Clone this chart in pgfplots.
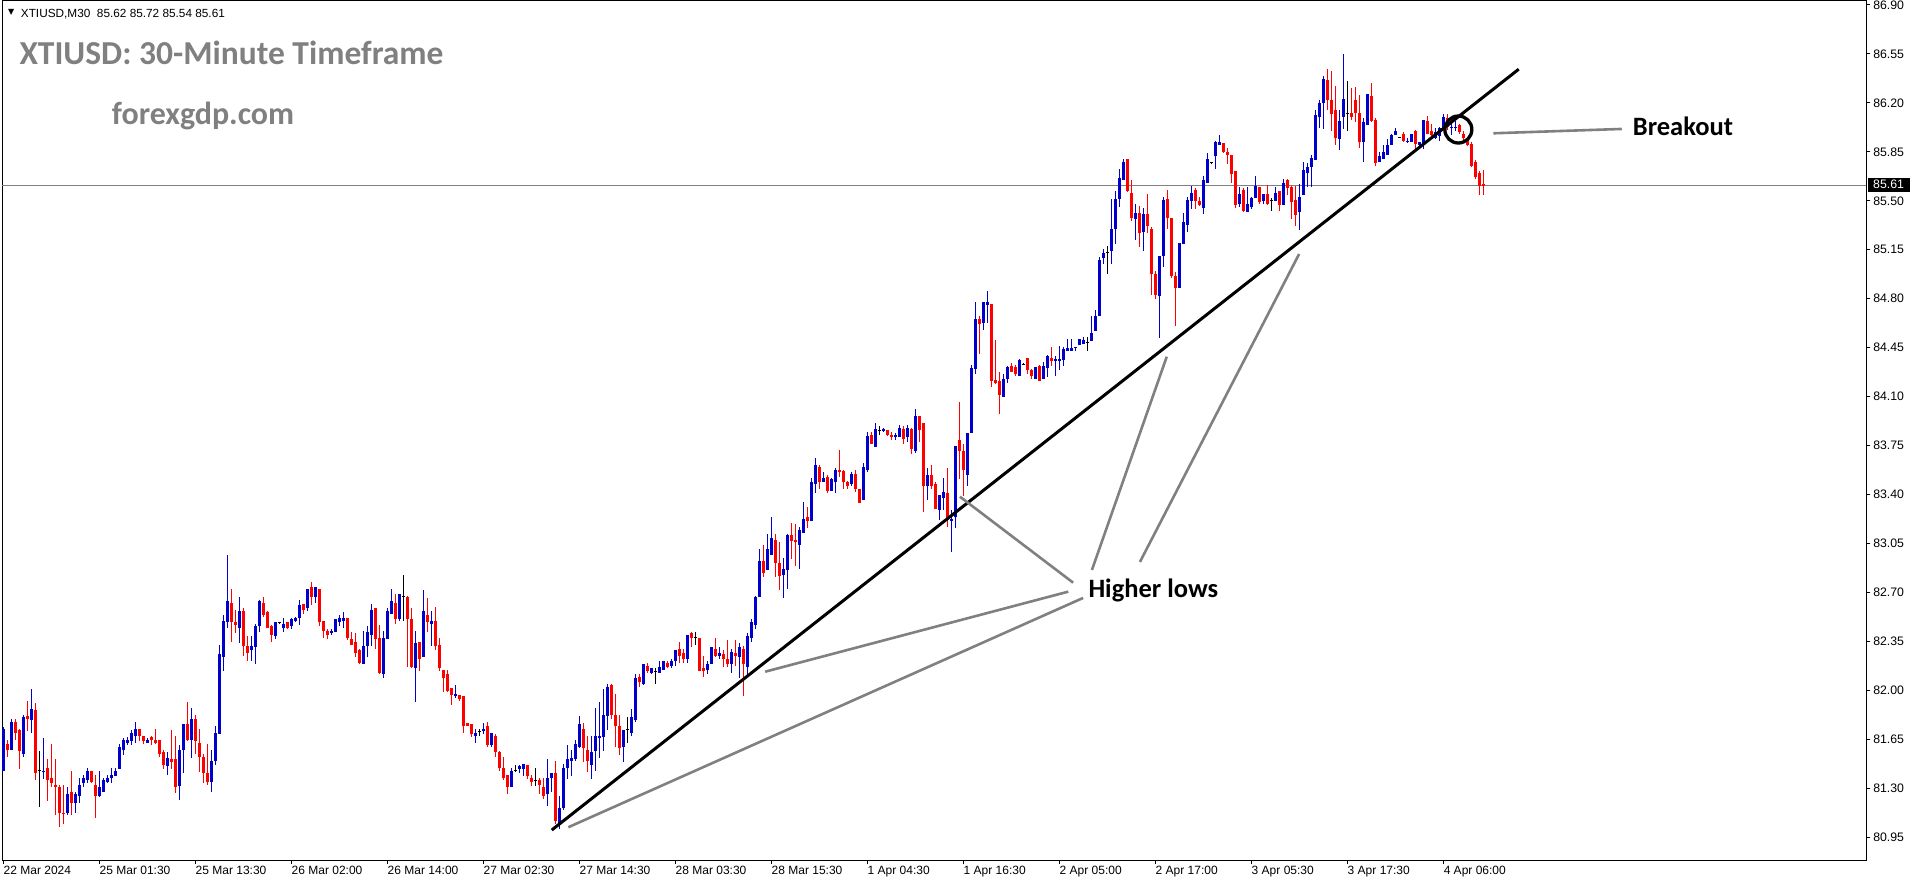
\documentclass[border=0pt]{standalone}
\usepackage{pgfplots}
\pgfplotsset{compat=1.18}
\usepackage{pgfplotstable}
\usepackage{fontspec}
\setmainfont{Liberation Sans}
\newfontfamily\carlito{Carlito}
\newfontfamily\dejavu{DejaVu Sans}
\definecolor{upblue}{RGB}{0,0,205}
\definecolor{dnred}{RGB}{255,0,0}
\definecolor{annogray}{RGB}{128,128,128}

\pgfplotstableread{
i o h l c
0 81.43 81.74 81.43 81.73
1 81.62 81.65 81.53 81.58
2 81.58 81.80 81.58 81.78
3 81.78 81.80 81.65 81.70
4 81.72 81.73 81.44 81.57
5 81.55 81.83 81.53 81.81
6 81.82 81.93 81.71 81.80
7 81.79 82.01 81.70 81.87
8 81.86 81.91 81.36 81.41
9 81.43 81.57 81.17 81.43
10 81.42 81.66 81.37 81.43
11 81.45 81.51 81.21 81.36
12 81.38 81.62 81.31 81.34
13 81.33 81.51 81.11 81.31
14 81.31 81.33 81.03 81.13
15 81.13 81.33 81.05 81.12
16 81.13 81.31 81.11 81.26
17 81.28 81.43 81.11 81.20
18 81.20 81.28 81.13 81.26
19 81.25 81.38 81.20 81.33
20 81.34 81.40 81.31 81.38
21 81.36 81.45 81.34 81.43
22 81.43 81.43 81.34 81.35
23 81.33 81.40 81.09 81.25
24 81.25 81.43 81.24 81.31
25 81.28 81.38 81.28 81.36
26 81.35 81.40 81.34 81.38
27 81.38 81.45 81.34 81.40
28 81.39 81.45 81.39 81.43
29 81.44 81.62 81.44 81.60
30 81.58 81.66 81.54 81.65
31 81.63 81.67 81.61 81.65
32 81.64 81.72 81.61 81.70
33 81.68 81.78 81.63 81.73
34 81.73 81.73 81.64 81.68
35 81.68 81.68 81.62 81.64
36 81.63 81.66 81.63 81.65
37 81.67 81.68 81.61 81.65
38 81.65 81.73 81.62 81.63
39 81.65 81.65 81.53 81.55
40 81.56 81.58 81.44 81.47
41 81.46 81.56 81.40 81.52
42 81.51 81.72 81.44 81.49
43 81.51 81.68 81.27 81.31
44 81.32 81.61 81.22 81.58
45 81.58 81.76 81.41 81.76
46 81.76 81.92 81.64 81.65
47 81.65 81.88 81.52 81.80
48 81.80 81.83 81.55 81.64
49 81.63 81.73 81.42 81.53
50 81.53 81.55 81.34 81.41
51 81.41 81.62 81.33 81.35
52 81.35 81.58 81.28 81.50
53 81.50 81.75 81.47 81.70
54 81.69 82.33 81.69 82.26
55 82.24 82.54 82.14 82.50
56 82.49 82.97 82.45 82.64
57 82.63 82.73 82.35 82.49
58 82.49 82.58 82.41 82.47
59 82.45 82.67 82.34 82.57
60 82.57 82.59 82.25 82.32
61 82.32 82.39 82.21 82.27
62 82.29 82.39 82.21 82.32
63 82.31 82.48 82.19 82.46
64 82.46 82.65 82.42 82.64
65 82.63 82.67 82.53 82.54
66 82.56 82.57 82.45 82.45
67 82.46 82.47 82.35 82.40
68 82.39 82.49 82.37 82.49
69 82.49 82.49 82.48 82.49
70 82.45 82.52 82.42 82.48
71 82.49 82.49 82.44 82.45
72 82.46 82.52 82.44 82.51
73 82.50 82.53 82.49 82.52
74 82.52 82.65 82.47 82.61
75 82.62 82.62 82.55 82.58
76 82.59 82.73 82.57 82.73
77 82.74 82.78 82.61 82.67
78 82.67 82.74 82.63 82.74
79 82.73 82.73 82.46 82.49
80 82.50 82.50 82.38 82.43
81 82.43 82.44 82.37 82.40
82 82.41 82.44 82.40 82.43
83 82.42 82.51 82.42 82.51
84 82.49 82.54 82.46 82.52
85 82.50 82.56 82.45 82.52
86 82.52 82.52 82.36 82.38
87 82.37 82.42 82.33 82.33
88 82.35 82.41 82.24 82.27
89 82.29 82.30 82.19 82.20
90 82.19 82.43 82.19 82.32
91 82.32 82.46 82.24 82.42
92 82.40 82.62 82.32 82.58
93 82.59 82.59 82.30 82.37
94 82.38 82.47 82.12 82.13
95 82.12 82.43 82.09 82.38
96 82.37 82.59 82.37 82.57
97 82.55 82.73 82.55 82.64
98 82.63 82.69 82.48 82.51
99 82.51 82.69 82.50 82.69
100 82.67 82.83 82.50 82.67
101 82.67 82.68 82.17 82.51
102 82.51 82.59 82.16 82.17
103 82.16 82.43 81.92 82.34
104 82.35 82.35 82.14 82.23
105 82.24 82.72 82.24 82.57
106 82.54 82.66 82.42 82.49
107 82.48 82.57 82.32 82.50
108 82.50 82.60 82.29 82.32
109 82.33 82.38 82.14 82.16
110 82.15 82.15 81.99 82.09
111 82.12 82.15 81.99 82.00
112 82.02 82.02 81.90 81.97
113 81.96 82.04 81.95 81.98
114 81.97 81.97 81.93 81.94
115 81.96 81.96 81.70 81.75
116 81.77 81.77 81.75 81.75
117 81.76 81.76 81.67 81.69
118 81.68 81.73 81.63 81.70
119 81.71 81.73 81.68 81.71
120 81.71 81.77 81.69 81.73
121 81.75 81.78 81.60 81.61
122 81.61 81.70 81.60 81.70
123 81.68 81.69 81.53 81.56
124 81.56 81.57 81.43 81.45
125 81.45 81.53 81.36 81.38
126 81.40 81.40 81.26 81.31
127 81.31 81.45 81.31 81.43
128 81.43 81.47 81.42 81.43
129 81.44 81.47 81.41 81.46
130 81.44 81.48 81.39 81.48
131 81.47 81.47 81.37 81.39
132 81.38 81.40 81.32 81.35
133 81.36 81.45 81.32 81.36
134 81.36 81.38 81.26 81.33
135 81.31 81.38 81.23 81.25
136 81.26 81.51 81.18 81.38
137 81.38 81.41 81.28 81.41
138 81.41 81.50 81.05 81.07
139 81.05 81.25 81.01 81.16
140 81.16 81.48 81.15 81.45
141 81.45 81.61 81.37 81.51
142 81.50 81.58 81.39 81.52
143 81.51 81.65 81.50 81.62
144 81.60 81.82 81.59 81.76
145 81.73 81.77 81.49 81.59
146 81.58 81.68 81.42 81.50
147 81.47 81.68 81.37 81.56
148 81.57 81.88 81.43 81.68
149 81.66 81.92 81.52 81.68
150 81.67 82.01 81.57 81.83
151 81.82 82.05 81.72 82.03
152 82.04 82.05 81.80 81.83
153 81.83 81.98 81.60 81.75
154 81.75 81.83 81.54 81.59
155 81.60 81.72 81.49 81.72
156 81.72 81.81 81.63 81.72
157 81.70 81.87 81.68 81.81
158 81.79 82.12 81.78 82.09
159 82.10 82.12 82.03 82.06
160 82.05 82.19 82.04 82.19
161 82.18 82.20 82.13 82.14
162 82.13 82.16 82.12 82.16
163 82.14 82.16 82.05 82.14
164 82.13 82.21 82.13 82.17
165 82.15 82.21 82.15 82.21
166 82.20 82.21 82.16 82.17
167 82.18 82.23 82.16 82.21
168 82.21 82.29 82.18 82.29
169 82.30 82.35 82.20 82.25
170 82.27 82.30 82.20 82.23
171 82.23 82.40 82.20 82.40
172 82.41 82.42 82.31 82.38
173 82.38 82.42 82.33 82.38
174 82.38 82.38 82.14 82.14
175 82.16 82.25 82.10 82.14
176 82.15 82.21 82.12 82.19
177 82.19 82.31 82.19 82.31
178 82.30 82.38 82.24 82.25
179 82.25 82.31 82.23 82.27
180 82.26 82.29 82.17 82.23
181 82.23 82.36 82.17 82.19
182 82.19 82.30 82.13 82.28
183 82.27 82.36 82.18 82.25
184 82.24 82.34 82.09 82.31
185 82.30 82.32 81.96 82.19
186 82.17 82.41 82.11 82.39
187 82.38 82.51 82.35 82.49
188 82.47 82.68 82.44 82.67
189 82.67 83.01 82.67 82.93
190 82.93 83.04 82.81 82.84
191 82.86 83.12 82.86 83.01
192 82.97 83.24 82.97 83.09
193 83.08 83.12 82.81 82.91
194 82.91 83.06 82.72 82.82
195 82.83 82.95 82.66 82.87
196 82.86 83.12 82.73 83.11
197 83.11 83.20 82.94 83.07
198 83.08 83.19 82.89 83.06
199 83.04 83.17 82.87 83.15
200 83.13 83.35 83.13 83.23
201 83.24 83.31 83.16 83.21
202 83.21 83.52 83.21 83.49
203 83.48 83.66 83.41 83.61
204 83.60 83.61 83.44 83.49
205 83.49 83.56 83.49 83.52
206 83.53 83.54 83.41 83.43
207 83.43 83.52 83.43 83.51
208 83.49 83.59 83.41 83.58
209 83.58 83.72 83.53 83.56
210 83.57 83.58 83.44 83.49
211 83.49 83.50 83.44 83.46
212 83.48 83.56 83.46 83.55
213 83.55 83.58 83.42 83.44
214 83.44 83.44 83.34 83.34
215 83.36 83.63 83.36 83.60
216 83.58 83.85 83.56 83.82
217 83.83 83.85 83.76 83.76
218 83.74 83.91 83.74 83.87
219 83.86 83.89 83.83 83.86
220 83.86 83.88 83.85 83.87
221 83.86 83.86 83.82 83.83
222 83.83 83.85 83.79 83.81
223 83.81 83.84 83.79 83.83
224 83.81 83.90 83.81 83.88
225 83.87 83.89 83.76 83.80
226 83.81 83.90 83.78 83.88
227 83.87 83.88 83.69 83.73
228 83.71 84.01 83.70 83.96
229 83.96 83.96 83.78 83.86
230 83.91 83.91 83.28 83.46
231 83.46 83.59 83.36 83.54
232 83.54 83.61 83.44 83.46
233 83.48 83.49 83.30 83.30
234 83.29 83.40 83.22 83.40
235 83.38 83.52 83.29 83.42
236 83.41 83.59 83.17 83.23
237 83.21 83.29 82.99 83.23
238 83.24 83.75 83.16 83.75
239 83.79 84.06 83.51 83.71
240 83.71 83.76 83.39 83.58
241 83.54 83.84 83.46 83.84
242 83.84 84.33 83.84 84.31
243 84.30 84.78 84.26 84.66
244 84.66 84.68 84.41 84.62
245 84.63 84.78 84.58 84.78
246 84.76 84.86 84.63 84.78
247 84.76 84.76 84.17 84.21
248 84.22 84.51 84.19 84.20
249 84.21 84.28 83.98 84.11
250 84.10 84.26 84.10 84.23
251 84.23 84.32 84.20 84.31
252 84.32 84.34 84.28 84.28
253 84.31 84.33 84.25 84.26
254 84.25 84.37 84.25 84.36
255 84.33 84.34 84.33 84.33
256 84.38 84.38 84.26 84.29
257 84.29 84.30 84.23 84.25
258 84.23 84.31 84.23 84.31
259 84.32 84.33 84.21 84.21
260 84.23 84.35 84.23 84.32
261 84.31 84.40 84.24 84.39
262 84.38 84.46 84.32 84.36
263 84.36 84.39 84.25 84.37
264 84.36 84.46 84.29 84.37
265 84.36 84.46 84.32 84.44
266 84.43 84.51 84.43 84.45
267 84.43 84.51 84.43 84.45
268 84.45 84.46 84.43 84.46
269 84.47 84.51 84.47 84.51
270 84.48 84.53 84.48 84.51
271 84.49 84.53 84.43 84.49
272 84.50 84.68 84.50 84.56
273 84.57 84.72 84.57 84.68
274 84.68 85.10 84.68 85.08
275 85.09 85.16 85.05 85.13
276 85.13 85.18 84.98 85.13
277 85.14 85.51 85.05 85.30
278 85.30 85.57 85.19 85.51
279 85.51 85.73 85.46 85.66
280 85.65 85.80 85.65 85.78
281 85.80 85.80 85.56 85.57
282 85.56 85.65 85.36 85.38
283 85.37 85.48 85.22 85.41
284 85.41 85.46 85.17 85.27
285 85.28 85.45 85.14 85.41
286 85.41 85.55 85.27 85.32
287 85.30 85.31 84.83 84.98
288 84.98 85.00 84.80 84.83
289 84.82 85.11 84.52 85.11
290 85.11 85.53 85.03 85.51
291 85.51 85.58 85.30 85.38
292 85.38 85.38 84.95 84.96
293 84.96 84.99 84.61 84.88
294 84.88 85.20 84.88 85.20
295 85.19 85.41 85.19 85.35
296 85.33 85.53 85.28 85.51
297 85.50 85.61 85.44 85.56
298 85.58 85.59 85.44 85.50
299 85.50 85.53 85.46 85.47
300 85.45 85.68 85.41 85.65
301 85.63 85.84 85.63 85.80
302 85.77 85.78 85.76 85.77
303 85.82 85.93 85.73 85.92
304 85.90 85.97 85.90 85.92
305 85.91 85.91 85.84 85.85
306 85.85 85.88 85.76 85.83
307 85.83 85.83 85.63 85.69
308 85.71 85.71 85.45 85.47
309 85.48 85.60 85.46 85.55
310 85.58 85.59 85.42 85.43
311 85.42 85.60 85.42 85.48
312 85.46 85.53 85.44 85.52
313 85.52 85.68 85.52 85.61
314 85.60 85.60 85.48 85.49
315 85.50 85.55 85.48 85.55
316 85.55 85.61 85.47 85.48
317 85.50 85.52 85.43 85.50
318 85.50 85.60 85.50 85.56
319 85.57 85.57 85.43 85.47
320 85.47 85.66 85.47 85.63
321 85.65 85.66 85.54 85.59
322 85.60 85.61 85.37 85.49
323 85.51 85.61 85.32 85.40
324 85.42 85.62 85.29 85.53
325 85.54 85.78 85.54 85.72
326 85.70 85.77 85.60 85.74
327 85.74 85.83 85.60 85.81
328 85.79 86.15 85.79 86.11
329 86.10 86.22 86.02 86.20
330 86.20 86.39 86.01 86.37
331 86.36 86.44 86.15 86.22
332 86.22 86.43 86.00 86.12
333 86.15 86.32 85.90 85.95
334 85.94 86.15 85.86 86.07
335 86.10 86.55 86.01 86.23
336 86.12 86.36 86.00 86.12
337 86.13 86.31 86.08 86.10
338 86.22 86.31 86.06 86.13
339 86.13 86.26 85.88 85.92
340 85.92 86.09 85.78 86.06
341 86.04 86.26 86.04 86.26
342 86.25 86.34 86.06 86.07
343 86.08 86.09 85.75 85.77
344 85.78 85.85 85.78 85.82
345 85.80 85.90 85.80 85.85
346 85.83 85.94 85.83 85.90
347 85.90 85.98 85.90 85.97
348 85.97 86.02 85.97 86.00
349 85.95 85.96 85.95 85.95
350 85.98 85.99 85.92 85.93
351 85.92 85.95 85.91 85.93
352 85.92 85.98 85.92 85.98
353 86.00 86.01 85.87 85.91
354 85.90 85.92 85.87 85.92
355 85.91 86.08 85.87 86.08
356 86.07 86.11 85.98 85.98
357 86.00 86.05 85.96 85.97
358 85.95 86.02 85.94 85.99
359 85.96 86.03 85.93 86.02
360 86.02 86.12 86.01 86.10
361 86.09 86.12 86.01 86.03
362 86.02 86.05 85.97 86.03
363 86.02 86.07 86.00 86.03
364 86.04 86.05 85.98 85.99
365 85.98 86.00 85.93 85.95
366 85.95 85.96 85.89 85.90
367 85.91 85.92 85.74 85.75
368 85.78 85.79 85.66 85.67
369 85.70 85.71 85.54 85.61
370 85.62 85.72 85.54 85.61
}\candles

% candles whose open equals close (drawn in black by the terminal)
\pgfplotstableread{
i h l c
9 81.57 81.17 81.43
69 82.49 82.48 82.49
100 82.83 82.50 82.67
119 81.73 81.68 81.71
128 81.47 81.42 81.43
133 81.45 81.32 81.36
156 81.81 81.63 81.72
163 82.16 82.05 82.14
173 82.42 82.33 82.38
219 83.89 83.83 83.86
255 84.34 84.33 84.33
271 84.53 84.43 84.49
276 85.18 84.98 85.13
302 85.78 85.76 85.77
317 85.52 85.43 85.50
336 86.36 86.00 86.12
349 85.96 85.95 85.95
}\dojis

\pgfplotsset{candle/.style={forget plot, draw=none, mark=none}}

\begin{document}
\begin{tikzpicture}[x=1pt,y=1pt]
\useasboundingbox (-2,-24) rectangle (1914,860);
\begin{axis}[
  at={(0,0)}, anchor=south west,
  scale only axis, width=1864pt, height=859pt,
  xmin=-0.375, xmax=465.625, ymin=80.791, ymax=86.927,
  axis line style={black, line width=1pt},
  xtick={0,24,48,72,96,120,144,168,192,216,240,264,288,312,336,360},
  xticklabels={22 Mar 2024,25 Mar 01:30,25 Mar 13:30,26 Mar 02:00,26 Mar 14:00,27 Mar 02:30,27 Mar 14:30,28 Mar 03:30,28 Mar 15:30,1 Apr 04:30,1 Apr 16:30,2 Apr 05:00,2 Apr 17:00,3 Apr 05:30,3 Apr 17:30,4 Apr 06:00},
  ytick={80.95,81.30,81.65,82.00,82.35,82.70,83.05,83.40,83.75,84.10,84.45,84.80,85.15,85.50,85.85,86.20,86.55,86.90},
  yticklabels={80.95,81.30,81.65,82.00,82.35,82.70,83.05,83.40,83.75,84.10,84.45,84.80,85.15,85.50,85.85,86.20,86.55,86.90},
  xtick pos=left, ytick pos=right, yticklabel pos=right,
  tick align=outside, major tick length=4pt,
  tick style={black, line width=1pt},
  xticklabel style={anchor=north west, inner sep=0pt, font=\fontsize{12}{14}\selectfont, yshift=-2pt},
  yticklabel style={anchor=west, inner sep=0pt, font=\fontsize{12.3}{14}\selectfont, xshift=3pt},
]
% current price line
\addplot[forget plot, annogray, line width=1pt] coordinates {(-0.375,85.61) (465.625,85.61)};

% up candles
\addplot[candle,
  restrict expr to domain={\thisrow{c}-\thisrow{o}}{0.001:100},
  error bars/.cd, y dir=both, y explicit, error mark=none,
  error bar style={draw=upblue, line width=1pt}]
  table[x=i, y expr={(\thisrow{h}+\thisrow{l})/2}, y error expr={(\thisrow{h}-\thisrow{l})/2}] {\candles};
\addplot[candle,
  restrict expr to domain={\thisrow{c}-\thisrow{o}}{0.001:100},
  error bars/.cd, y dir=both, y explicit, error mark=none,
  error bar style={draw=upblue, line width=3pt}]
  table[x=i, y expr={(\thisrow{o}+\thisrow{c})/2}, y error expr={(\thisrow{c}-\thisrow{o})/2}] {\candles};
% down candles
\addplot[candle,
  restrict expr to domain={\thisrow{c}-\thisrow{o}}{-100:-0.001},
  error bars/.cd, y dir=both, y explicit, error mark=none,
  error bar style={draw=dnred, line width=1pt}]
  table[x=i, y expr={(\thisrow{h}+\thisrow{l})/2}, y error expr={(\thisrow{h}-\thisrow{l})/2}] {\candles};
\addplot[candle,
  restrict expr to domain={\thisrow{c}-\thisrow{o}}{-100:-0.001},
  error bars/.cd, y dir=both, y explicit, error mark=none,
  error bar style={draw=dnred, line width=3pt}]
  table[x=i, y expr={(\thisrow{o}+\thisrow{c})/2}, y error expr={(\thisrow{o}-\thisrow{c})/2}] {\candles};
% doji candles
\addplot[candle,
  error bars/.cd, y dir=both, y explicit, error mark=none,
  error bar style={draw=black, line width=1pt}]
  table[x=i, y expr={(\thisrow{h}+\thisrow{l})/2}, y error expr={(\thisrow{h}-\thisrow{l})/2}] {\dojis};
\addplot[candle,
  error bars/.cd, x dir=both, x fixed=0.45, error mark=none,
  error bar style={draw=black, line width=1pt}]
  table[x=i, y=c] {\dojis};

% trendline and annotations
\draw[black, line width=3pt] (137.05,81.005) -- (378.8,86.44);
\draw[annogray, line width=2.6pt] (141.2,81.025) -- (269.9,82.663);
\draw[annogray, line width=2.6pt] (190.4,82.136) -- (266.2,82.708);
\draw[annogray, line width=2.6pt] (239.1,83.386) -- (267.4,82.772);
\draw[annogray, line width=2.6pt] (290.8,84.386) -- (272.1,82.863);
\draw[annogray, line width=2.6pt] (323.9,85.120) -- (284.1,82.920);
\draw[annogray, line width=2.6pt] (372.45,85.982) -- (404.55,86.013);
\draw[black, line width=3.3pt] (363.7,86.009) circle[radius=13.5pt];
\end{axis}

% price label on the axis
\fill[black] (1866,668.3) rectangle (1908,682.3);
\node[anchor=west, inner sep=0pt, text=white, font=\fontsize{12.3}{14}\selectfont] at (1871,675.3) {85.61};

% texts
\node[anchor=center, inner sep=0pt, font=\dejavu\fontsize{8}{9}\selectfont] at (9.2,847.3) {▼};
\node[anchor=base west, inner sep=0pt, font=\fontsize{11.8}{13}\selectfont] at (18.7,842.7) {XTIUSD,M30\ \ 85.62 85.72 85.54 85.61};
\node[anchor=base west, inner sep=0pt, text=annogray, font=\carlito\bfseries\fontsize{33.5}{40}\selectfont] at (17.3,795) {XTIUSD: 30-Minute Timeframe};
\node[anchor=base west, inner sep=0pt, text=annogray, font=\carlito\bfseries\fontsize{32}{38}\selectfont] at (109.7,735) {forexgdp.com};
\node[anchor=base west, inner sep=0pt, font=\carlito\bfseries\fontsize{26.5}{32}\selectfont] at (1086.3,262.7) {Higher lows};
\node[anchor=base west, inner sep=0pt, font=\carlito\bfseries\fontsize{26.5}{32}\selectfont] at (1630.7,724.7) {Breakout};
\end{tikzpicture}
\end{document}
